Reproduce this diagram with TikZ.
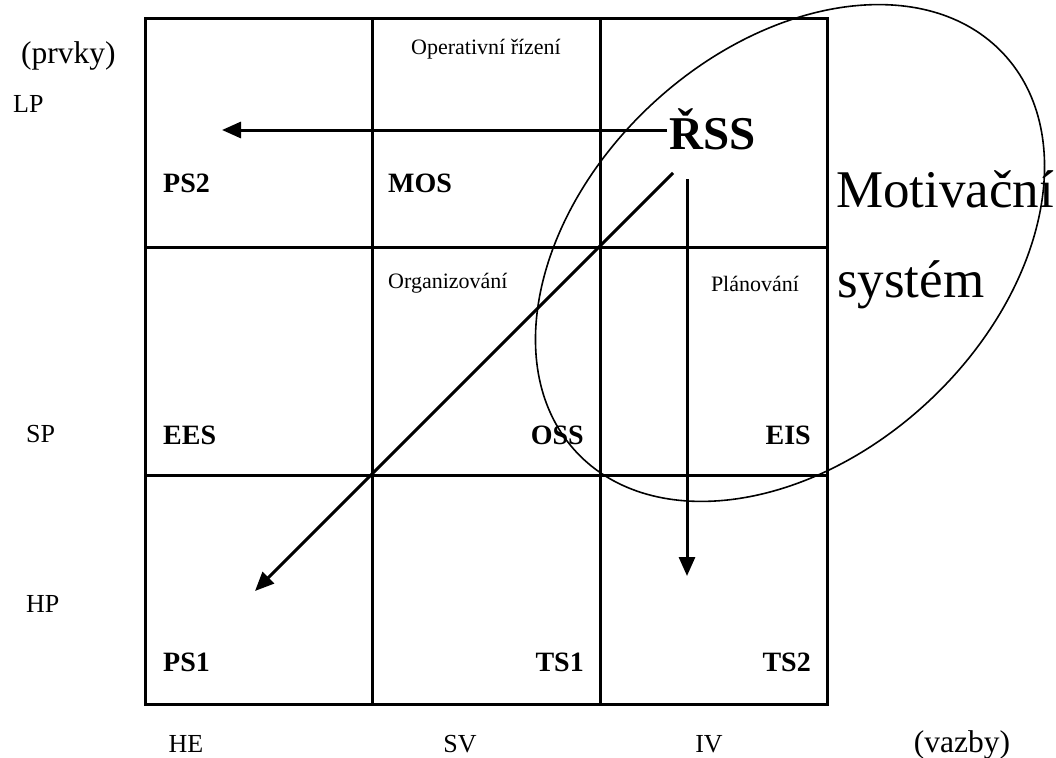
\documentclass[tikz,border=0pt]{standalone}
\usepackage{fontspec}
\setmainfont{Liberation Serif}
\usetikzlibrary{arrows.meta}
\begin{document}
\begin{tikzpicture}[x=1pt,y=-1pt,
  gridline/.style={line width=3pt},
  arr/.style={line width=3pt,-{Triangle[length=19pt,width=16pt]}},
  axislbl/.style={font=\fontsize{26}{30}\selectfont,inner sep=0pt},
  unitlbl/.style={font=\fontsize{31.5}{36}\selectfont,inner sep=0pt},
  cellname/.style={font=\fontsize{28}{32}\selectfont\bfseries,inner sep=0pt},
  funclbl/.style={font=\fontsize{22}{26}\selectfont,inner sep=0pt},
  big/.style={font=\fontsize{53}{60}\selectfont,inner sep=0pt}]
\useasboundingbox (0,0) rectangle (1056,757);
\fill[white] (0,0) rectangle (1056,757);

% 3x3 grid
\coordinate (g00) at (145,19);
\coordinate (g33) at (827,704);
\draw[gridline] (g00) rectangle (g33);
\draw[gridline] (372,19) -- (372,704);
\draw[gridline] (600,19) -- (600,704);
\draw[gridline] (145,247) -- (827,247);
\draw[gridline] (145,475) -- (827,475);

% row labels (prvky)
\node[unitlbl,anchor=base west] (prvky) at (21,64) {(prvky)};
\node[axislbl,anchor=base west] (lp) at (13,113) {LP};
\node[axislbl,anchor=base west] (sp) at (26,442) {SP};
\node[axislbl,anchor=base west] (hp) at (26,612) {HP};

% column labels (vazby)
\node[axislbl,anchor=base] (he) at (186,752) {HE};
\node[axislbl,anchor=base] (sv) at (460,752) {SV};
\node[axislbl,anchor=base] (iv) at (709,752) {IV};
\node[unitlbl,anchor=base] (vazby) at (962,752) {(vazby)};

% cell names
\node[cellname,anchor=base west] (ps2) at (163,192) {PS2};
\node[cellname,anchor=base west] (mos) at (388,192) {MOS};
\node[cellname,anchor=base west] (ees) at (163,444) {EES};
\node[cellname,anchor=base east] (oss) at (584,444) {OSS};
\node[cellname,anchor=base east] (eis) at (811,444) {EIS};
\node[cellname,anchor=base west] (ps1) at (163,671) {PS1};
\node[cellname,anchor=base east] (ts1) at (584,671) {TS1};
\node[cellname,anchor=base east] (ts2) at (811,671) {TS2};

% management functions
\node[funclbl,anchor=base] (oper) at (486,55) {Operativní řízení};
\node[funclbl,anchor=base west] (org) at (388,288) {Organizování};
\node[funclbl,anchor=base] (plan) at (755,291) {Plánování};

% control subsystem
\node[anchor=base,inner sep=0pt,font=\fontsize{47}{54}\selectfont\bfseries] (rss) at (713,149) {ŘSS};

% motivation system
\draw[line width=1.6pt,rotate around={43:(790,253)}] (790,253) ellipse [x radius=292pt, y radius=203pt];
\node[big,anchor=base west] (mot1) at (836,207) {Motivační};
\node[big,anchor=base west] (mot2) at (837,297) {systém};

% arrows from the control subsystem
\coordinate (hstart) at (667,130);
\coordinate (hend) at (222,130);
\coordinate (dstart) at (673,173);
\coordinate (dend) at (255,591);
\coordinate (vstart) at (687,179);
\coordinate (vend) at (687,576);
\draw[arr] (hstart) -- (hend);
\draw[arr] (dstart) -- (dend);
\draw[arr] (vstart) -- (vend);
\end{tikzpicture}
\end{document}
